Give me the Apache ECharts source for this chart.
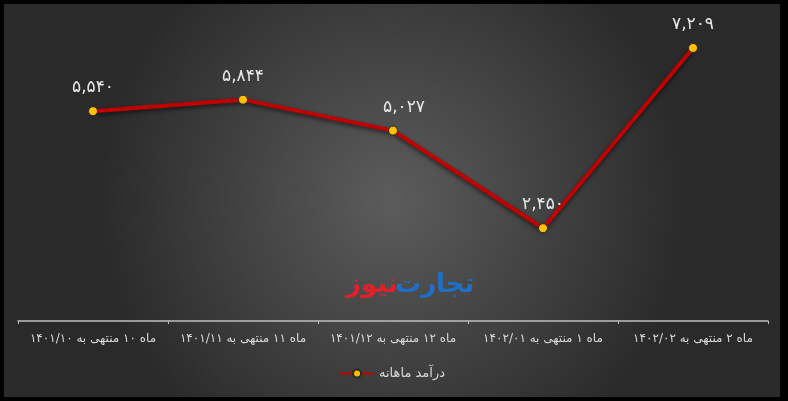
<!DOCTYPE html>
<html>
<head>
<meta charset="utf-8">
<script src="https://cdn.jsdelivr.net/npm/echarts@6/dist/echarts.min.js"></script>
<style>
  html, body { margin: 0; padding: 0; background: #000; }
  #wrap { position: absolute; left: 0; top: 0; width: 788px; height: 401px; background: #000; }
  #main { position: absolute; left: 4px; top: 4px; width: 776px; height: 393px; }
</style>
</head>
<body>
<div id="wrap"><div id="main"></div></div>
<script>
var categories = [
    'ماه ۱۰ منتهی به ۱۴۰۱/۱۰',
    'ماه ۱۱ منتهی به ۱۴۰۱/۱۱',
    'ماه ۱۲ منتهی به ۱۴۰۱/۱۲',
    'ماه ۱ منتهی به ۱۴۰۲/۰۱',
    'ماه ۲ منتهی به ۱۴۰۲/۰۲'
];
var revenue = [5540, 5844, 5027, 2450, 7209];
var seriesName = 'درآمد ماهانه';

// persian digits with latin comma like the original
function faNum(v) {
    var s = String(v).replace(/\B(?=(\d{3})+(?!\d))/g, ',');
    return s.replace(/\d/g, function (d) { return '۰۱۲۳۴۵۶۷۸۹'[d]; });
}

var pts = revenue.map(function (v, i) {
    var item = { value: v };
    if (i === 2) item.label = { offset: [11, 0] };
    return item;
});

var myChart = echarts.init(document.getElementById('main'));
myChart.setOption({
    backgroundColor: {
        type: 'radial', x: 0.5, y: 0.5, r: 0.75,
        colorStops: [
            { offset: 0, color: '#5c5c5c' },
            { offset: 1, color: '#2a2a2a' }
        ]
    },
    textStyle: { fontFamily: 'DejaVu Sans' },
    graphic: [
        {
            type: 'text', left: 391, top: 268,
            style: { text: 'تجارت', fill: '#1f6fc6', font: 'bold 26px "DejaVu Sans"' }
        },
        {
            type: 'text', left: 342, top: 268,
            style: { text: 'نیوز', fill: '#e0202a', font: 'bold 26px "DejaVu Sans"' }
        }
    ],
    legend: {
        bottom: 12,
        left: 'center',
        itemWidth: 34,
        itemHeight: 10,
        textStyle: { color: '#d9d9d9', fontSize: 13 },
        data: [seriesName]
    },
    grid: { left: 14, right: 12, top: 14, bottom: 76 },
    xAxis: {
        type: 'category',
        data: categories,
        boundaryGap: true,
        axisLine: { lineStyle: { color: '#bfbfbf', width: 1.5 } },
        axisTick: { show: true, interval: 0, length: 3, lineStyle: { color: '#bfbfbf' } },
        axisLabel: { color: '#d9d9d9', fontSize: 12, margin: 12, interval: 0 }
    },
    yAxis: {
        type: 'value', min: 0, max: 8000, show: false,
        splitLine: { show: false }
    },
    series: [
        {
            name: seriesName,
            type: 'line',
            data: pts,
            symbol: 'circle',
            symbolSize: 9,
            itemStyle: { color: '#ffc000', borderColor: '#2a2a2a', borderWidth: 1 },
            lineStyle: {
                color: '#c00000', width: 4,
                shadowColor: 'rgba(0,0,0,0.6)', shadowBlur: 4, shadowOffsetY: 2
            },
            label: {
                show: true,
                position: 'top',
                distance: 10,
                color: '#e8e8e8',
                fontSize: 17,
                formatter: function (p) { return faNum(p.value); }
            },
            emphasis: { disabled: true }
        }
    ]
});
</script>
</body>
</html>
